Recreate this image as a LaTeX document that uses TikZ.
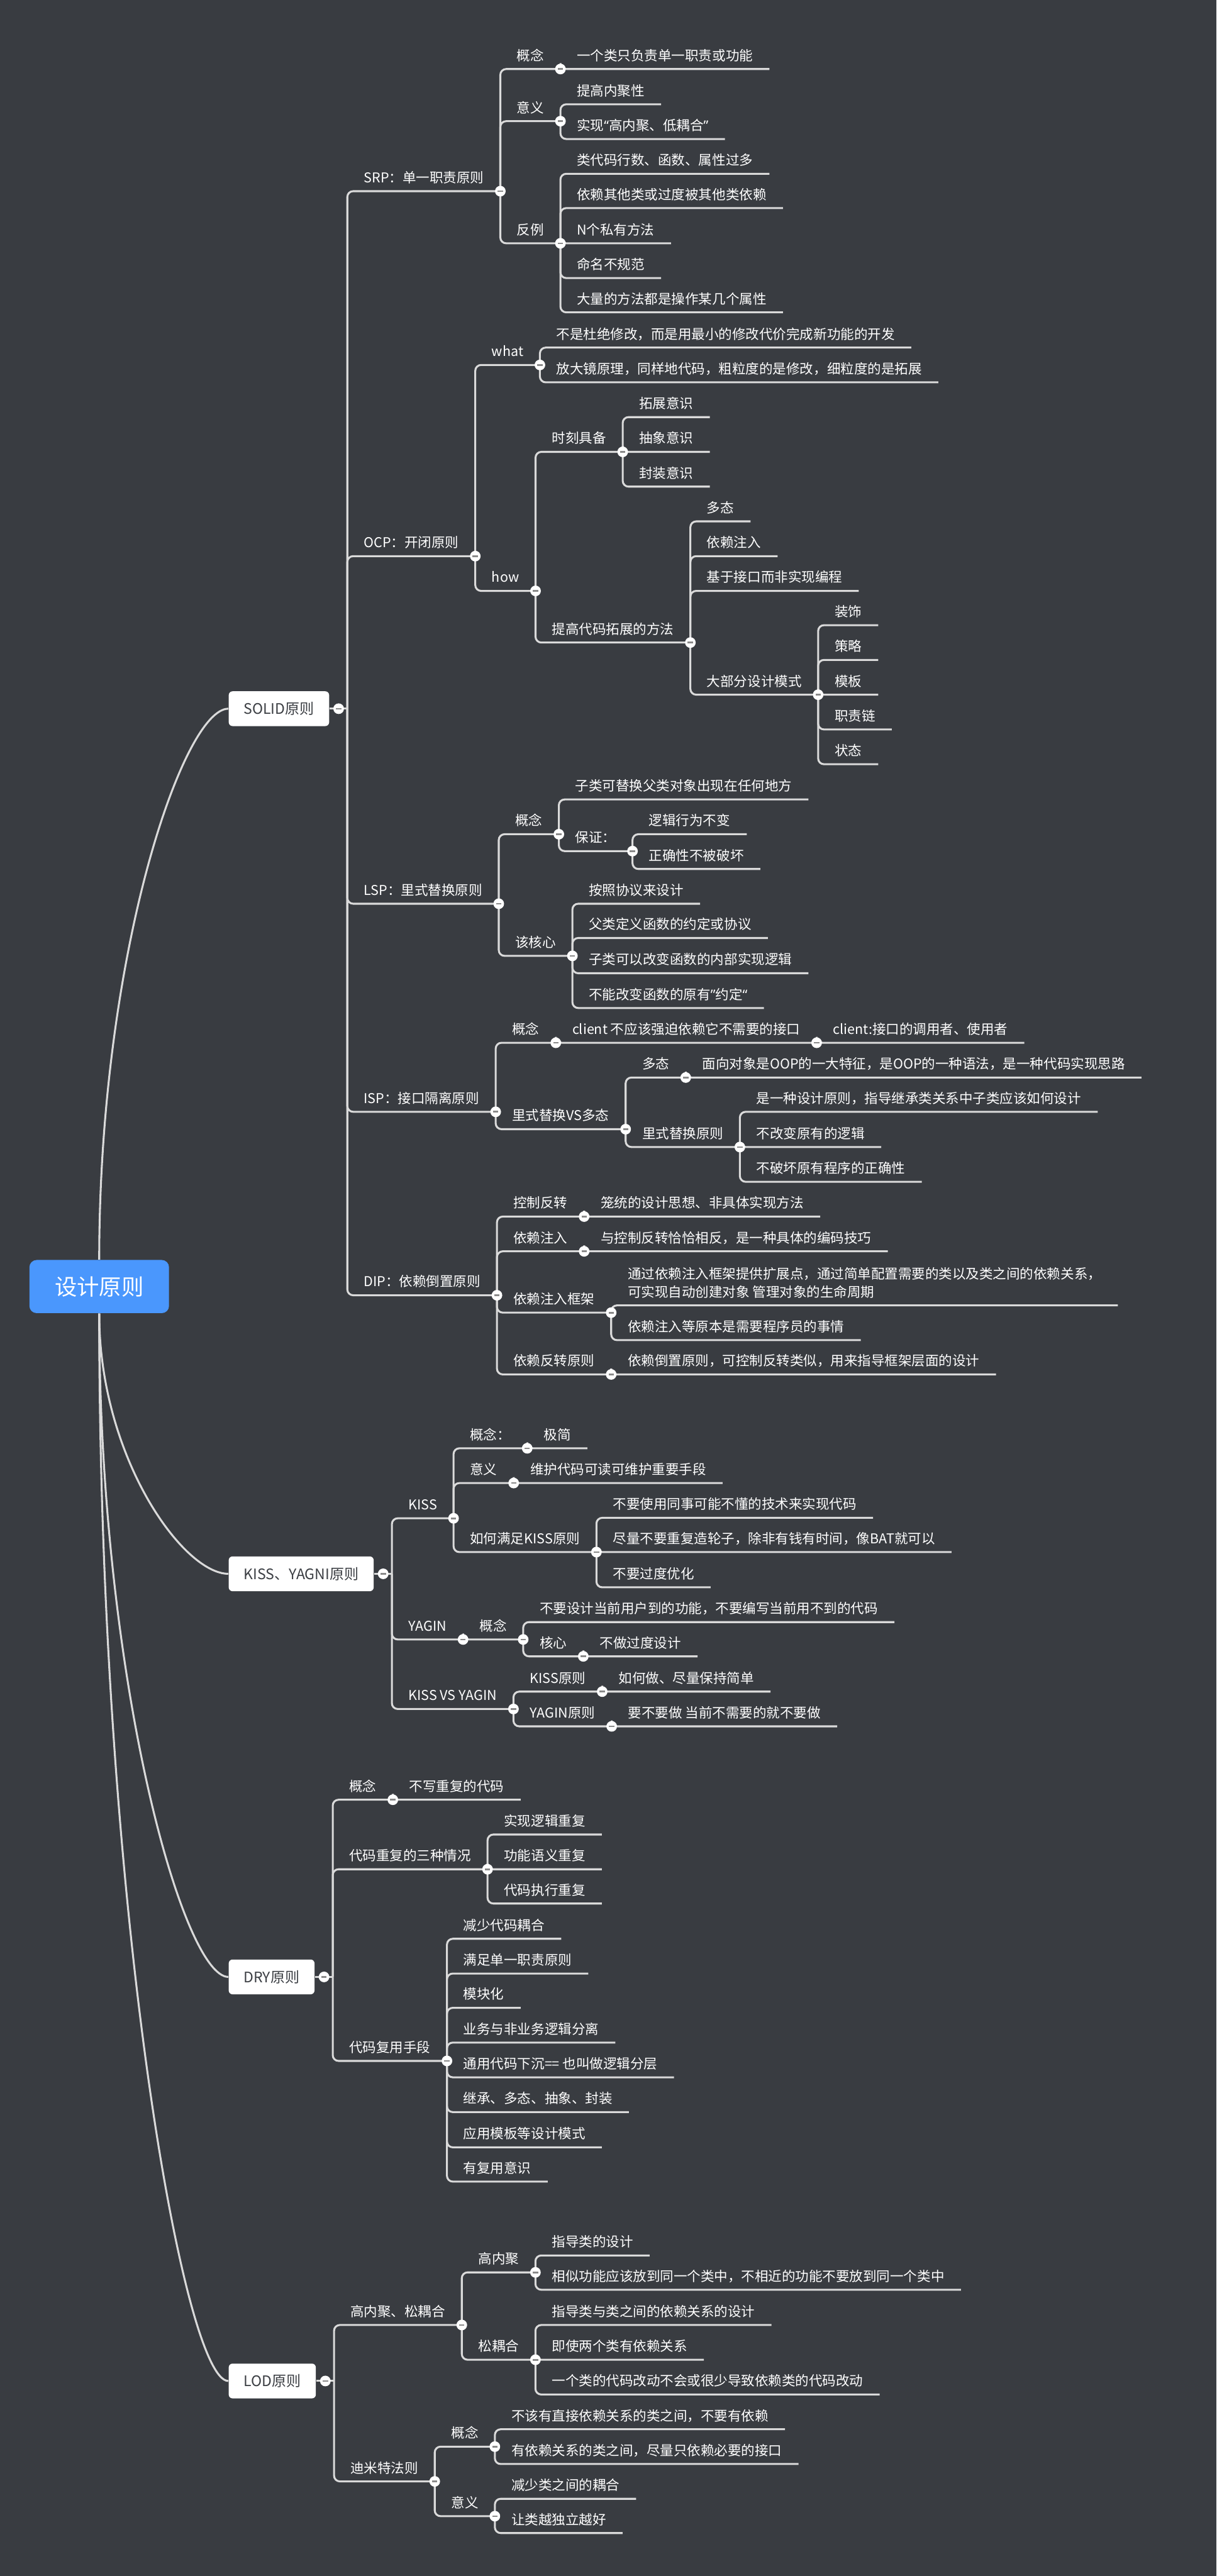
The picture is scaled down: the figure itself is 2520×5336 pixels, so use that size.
\documentclass[tikz,border=0pt]{standalone}
\usepackage{fontspec}
\setmainfont{Noto Sans CJK SC}
\newfontfamily\lat{Noto Sans}
\usetikzlibrary{calc}
\definecolor{bg}{HTML}{393C41}
\definecolor{ln}{HTML}{DADADA}
\definecolor{rootblue}{HTML}{4A97FD}
\definecolor{boxtxt}{HTML}{3C3F44}
\definecolor{btnminus}{HTML}{8A8A8A}
\newcommand\mmkid[4]{%
  \node[lbl] (#1) at (#2.south east |- 0,#3) {#4};
  \draw[conn] (#2.south east) |- (#1.south east);
}
\begin{document}
\begin{tikzpicture}[x=0.01cm, y=-0.01cm,
  lbl/.style={anchor=south west, inner xsep=0.335cm, inner ysep=0pt, text depth=0.17cm,
    font=\fontsize{7.97pt}{10.5pt}\selectfont, text=white},
  conn/.style={draw=ln, line width=0.04cm, rounded corners=0.12cm},
  curve/.style={draw=ln, line width=0.04cm},
  l1/.style={anchor=west, fill=white, rounded corners=0.08cm, minimum height=0.72cm,
    inner xsep=0.31cm, font=\fontsize{8.54pt}{10pt}\selectfont, text=boxtxt},
  rootbox/.style={fill=rootblue, rounded corners=0.15cm, minimum width=2.89cm, minimum height=1.1cm,
    inner sep=0pt, font=\fontsize{13.1pt}{15pt}\selectfont, text=white},
  pt/.style={inner sep=0pt, outer sep=0pt, minimum size=0pt},
  btn/.style={circle, fill=white, inner sep=0pt, minimum size=0.22cm,
    path picture={\draw[btnminus, line width=0.035cm] ([xshift=-0.055cm]path picture bounding box.center) -- ([xshift=0.055cm]path picture bounding box.center);}}
]
\fill[bg] (0,0) rectangle (2520,5336);
\useasboundingbox (0,0) rectangle (2520,5336);

% root and level 1
\node[rootbox] (root) at (205.5,2665) {设计原则};
\node[l1] (solid) at (473,1468) {SOLID原则};
\node[l1] (kiss) at (473,3260) {KISS、YAGNI原则};
\node[l1] (dry) at (473,4095) {DRY原则};
\node[l1] (lod) at (473,4932) {LOD原则};

\draw[curve] (root.north) .. controls +(0,-630) and +(-94,0) .. (solid.west);
\draw[curve] (root.south) .. controls +(0,297) and +(-94,0) .. (kiss.west);
\draw[curve] (root.south) .. controls +(0,757) and +(-94,0) .. (dry.west);
\draw[curve] (root.south) .. controls +(0,1216) and +(-94,0) .. (lod.west);

\node[pt] (solidb) at ($(solid.east)+(37,0)$) {};
\node[pt] (kissb) at ($(kiss.east)+(37,0)$) {};
\node[pt] (dryb) at ($(dry.east)+(37,0)$) {};
\node[pt] (lodb) at ($(lod.east)+(37,0)$) {};
\draw[conn] (solid.east) -- (solidb.center);
\draw[conn] (kiss.east) -- (kissb.center);
\draw[conn] (dry.east) -- (dryb.center);
\draw[conn] (lod.east) -- (lodb.center);

% ===== SOLID =====
\mmkid{srp}{solidb}{396}{SRP：单一职责原则}
\mmkid{ocp}{solidb}{1152}{OCP：开闭原则}
\mmkid{lsp}{solidb}{1872}{LSP：里式替换原则}
\mmkid{isp}{solidb}{2303}{ISP：接口隔离原则}
\mmkid{dip}{solidb}{2683}{DIP：依赖倒置原则}

% SRP
\mmkid{srpgn}{srp}{143}{概念}
\mmkid{srpgn1}{srpgn}{143}{一个类只负责单一职责或功能}
\mmkid{srpyy}{srp}{251}{意义}
\mmkid{srpyy1}{srpyy}{216}{提高内聚性}
\mmkid{srpyy2}{srpyy}{288}{实现{\lat “}高内聚、低耦合{\lat ”}}
\mmkid{srpfl}{srp}{504}{反例}
\mmkid{srpfl1}{srpfl}{360}{类代码行数、函数、属性过多}
\mmkid{srpfl2}{srpfl}{431}{依赖其他类或过度被其他类依赖}
\mmkid{srpfl3}{srpfl}{504}{N个私有方法}
\mmkid{srpfl4}{srpfl}{576}{命名不规范}
\mmkid{srpfl5}{srpfl}{647}{大量的方法都是操作某几个属性}

% OCP
\mmkid{what}{ocp}{756}{what}
\mmkid{what1}{what}{720}{不是杜绝修改，而是用最小的修改代价完成新功能的开发}
\mmkid{what2}{what}{792}{放大镜原理，同样地代码，粗粒度的是修改，细粒度的是拓展}
\mmkid{how}{ocp}{1224}{how}
\mmkid{sk}{how}{936}{时刻具备}
\mmkid{sk1}{sk}{864}{拓展意识}
\mmkid{sk2}{sk}{936}{抽象意识}
\mmkid{sk3}{sk}{1008}{封装意识}
\mmkid{tg}{how}{1331}{提高代码拓展的方法}
\mmkid{tg1}{tg}{1080}{多态}
\mmkid{tg2}{tg}{1152}{依赖注入}
\mmkid{tg3}{tg}{1224}{基于接口而非实现编程}
\mmkid{tg4}{tg}{1439}{大部分设计模式}
\mmkid{ms1}{tg4}{1295}{装饰}
\mmkid{ms2}{tg4}{1367}{策略}
\mmkid{ms3}{tg4}{1439}{模板}
\mmkid{ms4}{tg4}{1511}{职责链}
\mmkid{ms5}{tg4}{1583}{状态}

% LSP
\mmkid{lspgn}{lsp}{1728}{概念}
\mmkid{lspgn1}{lspgn}{1656}{子类可替换父类对象出现在任何地方}
\mmkid{lspbz}{lspgn}{1763}{保证：}
\mmkid{lspbz1}{lspbz}{1728}{逻辑行为不变}
\mmkid{lspbz2}{lspbz}{1800}{正确性不被破坏}
\mmkid{lsphx}{lsp}{1980}{该核心}
\mmkid{lsphx1}{lsphx}{1872}{按照协议来设计}
\mmkid{lsphx2}{lsphx}{1943}{父类定义函数的约定或协议}
\mmkid{lsphx3}{lsphx}{2016}{子类可以改变函数的内部实现逻辑}
\mmkid{lsphx4}{lsphx}{2088}{不能改变函数的原有{\lat ”}约定{\lat “}}

% ISP
\mmkid{ispgn}{isp}{2160}{概念}
\mmkid{ispgn1}{ispgn}{2160}{client 不应该强迫依赖它不需要的接口}
\mmkid{ispgn2}{ispgn1}{2160}{client:接口的调用者、使用者}
\mmkid{ispvs}{isp}{2339}{里式替换VS多态}
\mmkid{ispdt}{ispvs}{2232}{多态}
\mmkid{ispdt1}{ispdt}{2232}{面向对象是OOP的一大特征，是OOP的一种语法，是一种代码实现思路}
\mmkid{isplsp}{ispvs}{2376}{里式替换原则}
\mmkid{isplsp1}{isplsp}{2303}{是一种设计原则，指导继承类关系中子类应该如何设计}
\mmkid{isplsp2}{isplsp}{2376}{不改变原有的逻辑}
\mmkid{isplsp3}{isplsp}{2448}{不破坏原有程序的正确性}

% DIP
\mmkid{kzfz}{dip}{2520}{控制反转}
\mmkid{kzfz1}{kzfz}{2520}{笼统的设计思想、非具体实现方法}
\mmkid{yrzr}{dip}{2592}{依赖注入}
\mmkid{yrzr1}{yrzr}{2592}{与控制反转恰恰相反，是一种具体的编码技巧}
\mmkid{yrkj}{dip}{2719}{依赖注入框架}
\mmkid{yrkj1}{yrkj}{2704}{\begin{tabular}[b]{@{}l@{}}通过依赖注入框架提供扩展点，通过简单配置需要的类以及类之间的依赖关系，\\可实现自动创建对象 管理对象的生命周期\end{tabular}}
\mmkid{yrkj2}{yrkj}{2776}{依赖注入等原本是需要程序员的事情}
\mmkid{yrfz}{dip}{2847}{依赖反转原则}
\mmkid{yrfz1}{yrfz}{2847}{依赖倒置原则，可控制反转类似，用来指导框架层面的设计}

% ===== KISS / YAGNI =====
\mmkid{kissk}{kissb}{3145}{KISS}
\mmkid{kgn}{kissk}{3000}{概念：}
\mmkid{kgn1}{kgn}{3000}{极简}
\mmkid{kyy}{kissk}{3072}{意义}
\mmkid{kyy1}{kyy}{3072}{维护代码可读可维护重要手段}
\mmkid{khow}{kissk}{3215}{如何满足KISS原则}
\mmkid{khow1}{khow}{3144}{不要使用同事可能不懂的技术来实现代码}
\mmkid{khow2}{khow}{3215}{尽量不要重复造轮子，除非有钱有时间，像BAT就可以}
\mmkid{khow3}{khow}{3288}{不要过度优化}
\mmkid{yagin}{kissb}{3396}{YAGIN}
\mmkid{ygn}{yagin}{3396}{概念}
\mmkid{ygn1}{ygn}{3360}{不要设计当前用户到的功能，不要编写当前用不到的代码}
\mmkid{yhx}{ygn}{3431}{核心}
\mmkid{yhx1}{yhx}{3431}{不做过度设计}
\mmkid{kvy}{kissb}{3540}{KISS VS YAGIN}
\mmkid{kvk}{kvy}{3504}{KISS原则}
\mmkid{kvk1}{kvk}{3504}{如何做、尽量保持简单}
\mmkid{kvy2}{kvy}{3576}{YAGIN原则}
\mmkid{kvy21}{kvy2}{3576}{要不要做 当前不需要的就不要做}

% ===== DRY =====
\mmkid{dgn}{dryb}{3728}{概念}
\mmkid{dgn1}{dgn}{3728}{不写重复的代码}
\mmkid{dcf}{dryb}{3872}{代码重复的三种情况}
\mmkid{dcf1}{dcf}{3800}{实现逻辑重复}
\mmkid{dcf2}{dcf}{3872}{功能语义重复}
\mmkid{dcf3}{dcf}{3943}{代码执行重复}
\mmkid{dfy}{dryb}{4269}{代码复用手段}
\mmkid{dfy1}{dfy}{4016}{减少代码耦合}
\mmkid{dfy2}{dfy}{4088}{满足单一职责原则}
\mmkid{dfy3}{dfy}{4159}{模块化}
\mmkid{dfy4}{dfy}{4231}{业务与非业务逻辑分离}
\mmkid{dfy5}{dfy}{4303}{通用代码下沉== 也叫做逻辑分层}
\mmkid{dfy6}{dfy}{4375}{继承、多态、抽象、封装}
\mmkid{dfy7}{dfy}{4448}{应用模板等设计模式}
\mmkid{dfy8}{dfy}{4519}{有复用意识}

% ===== LOD =====
\mmkid{gnsg}{lodb}{4816}{高内聚、松耦合}
\mmkid{gnj}{gnsg}{4707}{高内聚}
\mmkid{gnj1}{gnj}{4672}{指导类的设计}
\mmkid{gnj2}{gnj}{4743}{相似功能应该放到同一个类中，不相近的功能不要放到同一个类中}
\mmkid{sog}{gnsg}{4888}{松耦合}
\mmkid{sog1}{sog}{4816}{指导类与类之间的依赖关系的设计}
\mmkid{sog2}{sog}{4888}{即使两个类有依赖关系}
\mmkid{sog3}{sog}{4960}{一个类的代码改动不会或很少导致依赖类的代码改动}
\mmkid{dmt}{lodb}{5140}{迪米特法则}
\mmkid{dgn2}{dmt}{5068}{概念}
\mmkid{dgn21}{dgn2}{5032}{不该有直接依赖关系的类之间，不要有依赖}
\mmkid{dgn22}{dgn2}{5104}{有依赖关系的类之间，尽量只依赖必要的接口}
\mmkid{dyy}{dmt}{5212}{意义}
\mmkid{dyy1}{dyy}{5176}{减少类之间的耦合}
\mmkid{dyy2}{dyy}{5247}{让类越独立越好}

% collapse buttons
\node[btn] (solidbtn) at ($(solid.east)+(19,0)$) {};
\node[btn] (kissbtn) at ($(kiss.east)+(19,0)$) {};
\node[btn] (drybtn) at ($(dry.east)+(19,0)$) {};
\node[btn] (lodbtn) at ($(lod.east)+(19,0)$) {};
\foreach \n in {srp,srpgn,srpyy,srpfl,ocp,what,how,sk,tg,tg4,lsp,lspgn,lspbz,lsphx,
  isp,ispgn,ispgn1,ispvs,ispdt,isplsp,dip,kzfz,yrzr,yrkj,yrfz,
  kissk,kgn,kyy,khow,yagin,ygn,yhx,kvy,kvk,kvy2,
  dgn,dcf,dfy,gnsg,gnj,sog,dmt,dgn2,dyy}
  \node[btn] at (\n.south east) {};
\end{tikzpicture}
\end{document}
